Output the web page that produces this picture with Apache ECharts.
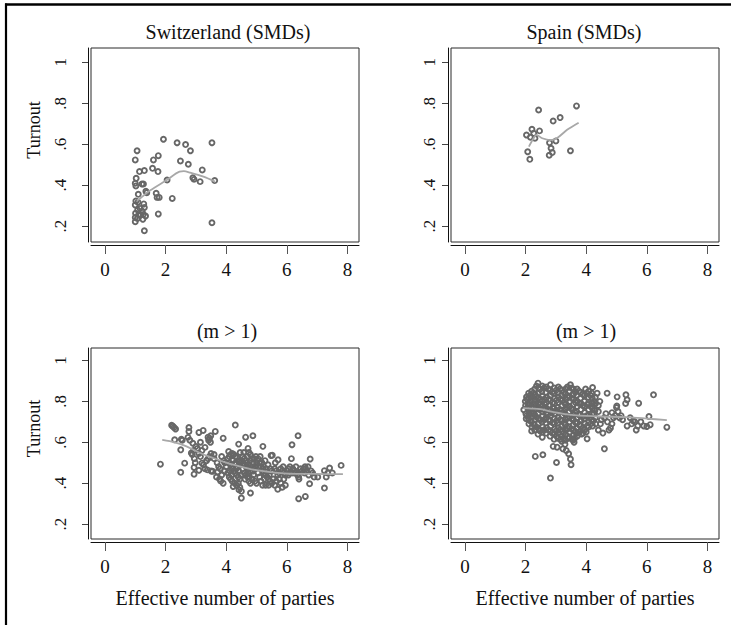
<!DOCTYPE html>
<html>
<head>
<meta charset="utf-8">
<script src="https://cdn.jsdelivr.net/npm/echarts@6/dist/echarts.min.js"></script>
<style>html,body{margin:0;padding:0;background:#fff}#c{width:731px;height:625px}</style>
</head>
<body>
<div id="c"></div>
<script>
// ---------- data ----------
const panelTitles = ["Switzerland (SMDs)", "Spain (SMDs)", "(m > 1)", "(m > 1)"];
const xTicks = [0, 2, 4, 6, 8];
const yTicks = [0.2, 0.4, 0.6, 0.8, 1];
const yName = "Turnout";
const xName = "Effective number of parties";

const swissPts = [[1.93,0.624],[2.38,0.607],[2.66,0.598],[2.82,0.568],[3.53,0.607],[1.06,0.568],[1.0,0.523],[1.60,0.523],[1.76,0.544],[2.49,0.518],[2.75,0.502],[1.57,0.482],[1.75,0.466],[1.14,0.466],[1.30,0.471],[1.03,0.433],[1.0,0.409],[1.22,0.405],[1.27,0.405],[1.02,0.396],[2.05,0.425],[3.21,0.474],[2.90,0.436],[2.94,0.428],[3.14,0.417],[3.62,0.422],[1.10,0.355],[1.35,0.370],[1.38,0.363],[1.69,0.360],[1.72,0.340],[1.79,0.340],[2.22,0.335],[1.0,0.303],[1.02,0.322],[1.09,0.316],[1.28,0.308],[1.30,0.291],[1.08,0.278],[1.01,0.262],[1.11,0.254],[1.18,0.254],[1.27,0.257],[1.34,0.249],[1.0,0.242],[1.07,0.237],[1.0,0.221],[1.25,0.233],[1.76,0.259],[3.53,0.216],[1.30,0.177],[1.23,0.272],[1.16,0.286]];
const swissLowess = [[1.05,0.325],[1.16,0.335],[1.5,0.375],[2.04,0.425],[2.46,0.466],[2.6,0.468],[2.81,0.461],[3.25,0.441],[3.63,0.417]];

const spainPts = [[2.43,0.767],[3.68,0.787],[2.91,0.713],[3.14,0.730],[2.03,0.645],[2.21,0.673],[2.27,0.653],[2.46,0.665],[2.16,0.634],[2.31,0.629],[2.79,0.607],[3.00,0.616],[2.07,0.563],[2.14,0.526],[2.84,0.580],[2.88,0.559],[2.78,0.546],[3.48,0.568]];
const spainLowess = [[2.11,0.588],[2.25,0.625],[2.36,0.645],[2.55,0.629],[2.82,0.62],[3.04,0.63],[3.37,0.67],[3.75,0.705]];

const mmLeftPts = [[1.83,0.493],
[2.2,0.683],[2.24,0.678],[2.28,0.672],[2.33,0.665],[2.3,0.612],[2.5,0.563],[2.52,0.615],[2.55,0.61],[2.5,0.453],[2.63,0.498],[2.77,0.672],[2.77,0.653],[2.74,0.624],[2.8,0.61],[2.85,0.547],[2.88,0.54],[2.9,0.595],[2.94,0.477],[2.94,0.444],[2.95,0.52],[2.98,0.5],[3.0,0.58],[2.92,0.56],
[3.1,0.648],[3.24,0.658],[3.05,0.57],[3.1,0.545],[3.15,0.53],[3.2,0.498],[3.25,0.49],[3.3,0.575],[3.35,0.51],[3.38,0.465],[3.1,0.463],[3.4,0.625],[3.45,0.62],[3.49,0.632],[3.42,0.61],[3.48,0.6],[3.5,0.545],[3.45,0.53],[3.5,0.46],[3.55,0.458],[3.3,0.47],[3.2,0.56],[3.15,0.6],[3.4,0.52],
[3.64,0.653],[3.9,0.62],[3.6,0.54],[3.7,0.5],[3.75,0.48],[3.8,0.47],[3.72,0.455],[3.78,0.42],[3.82,0.41],[3.85,0.44],[3.9,0.4],[3.95,0.46],[3.95,0.5],[3.6,0.52],[3.85,0.53],[3.92,0.51],[4.0,0.48],[3.68,0.43],
[4.05,0.52],[4.1,0.53],[4.15,0.54],[4.2,0.545],[4.25,0.54],[4.3,0.53],[4.35,0.525],[4.1,0.5],[4.15,0.49],[4.2,0.47],[4.25,0.46],[4.3,0.45],[4.35,0.44],[4.4,0.43],[4.45,0.42],[4.05,0.45],[4.1,0.43],[4.15,0.42],[4.2,0.41],[4.28,0.4],[4.35,0.39],[4.4,0.4],[4.45,0.38],[4.5,0.36],[4.12,0.46],[4.32,0.5],[4.38,0.48],[4.42,0.51],[4.48,0.5],[4.46,0.55],[4.5,0.44],[4.08,0.555],[4.3,0.684],[4.41,0.591],[4.23,0.384],[4.42,0.368],[4.5,0.327],
[4.22,0.51],[4.27,0.495],[4.18,0.44],[4.33,0.47],[4.4,0.46],[4.44,0.49],[4.52,0.51],[4.56,0.49],
[4.64,0.625],[4.88,0.632],[4.55,0.53],[4.6,0.52],[4.65,0.51],[4.7,0.53],[4.75,0.55],[4.8,0.54],[4.85,0.52],[4.9,0.5],[4.95,0.48],[4.55,0.47],[4.6,0.45],[4.65,0.44],[4.7,0.43],[4.75,0.41],[4.8,0.40],[4.85,0.42],[4.9,0.44],[4.95,0.41],[5.0,0.4],[4.6,0.49],[4.7,0.47],[4.8,0.46],[4.9,0.47],[5.0,0.5],[4.72,0.57],[4.8,0.352],[4.68,0.5],[4.58,0.55],[4.98,0.53],
[4.66,0.48],[4.74,0.49],[4.84,0.48],[4.78,0.51],[4.62,0.42],[4.72,0.45],[4.88,0.46],[4.93,0.52],[4.76,0.43],
[5.21,0.58],[5.05,0.52],[5.1,0.5],[5.15,0.48],[5.2,0.46],[5.25,0.45],[5.3,0.44],[5.35,0.43],[5.4,0.42],[5.45,0.41],[5.05,0.45],[5.1,0.43],[5.15,0.41],[5.2,0.39],[5.3,0.39],[5.4,0.39],[5.5,0.40],[5.12,0.53],[5.28,0.51],[5.38,0.49],[5.45,0.47],[5.5,0.46],[5.48,0.535],[5.22,0.47],[5.35,0.455],
[5.06,0.48],[5.18,0.5],[5.26,0.42],[5.32,0.47],[5.42,0.44],
[5.52,0.536],[5.71,0.514],[5.6,0.47],[5.65,0.46],[5.7,0.44],[5.75,0.42],[5.8,0.40],[5.85,0.38],[5.7,0.37],[5.6,0.39],[5.65,0.41],[5.75,0.45],[5.8,0.47],[5.85,0.46],[5.9,0.45],[5.95,0.44],[6.0,0.46],[5.9,0.42],[5.95,0.39],[5.55,0.42],[5.62,0.5],[5.88,0.48],
[6.17,0.588],[6.37,0.632],[6.05,0.47],[6.1,0.48],[6.15,0.52],[6.2,0.47],[6.25,0.46],[6.3,0.45],[6.35,0.44],[6.4,0.42],[6.45,0.47],[6.05,0.44],[6.1,0.45],[6.2,0.45],[6.39,0.324],[6.39,0.43],[6.5,0.46],[6.3,0.48],
[6.61,0.335],[6.55,0.47],[6.6,0.48],[6.65,0.46],[6.7,0.48],[6.77,0.518],[6.75,0.397],[6.8,0.46],[6.85,0.45],[6.72,0.44],[6.58,0.45],[6.9,0.43],[6.62,0.47],
[7.02,0.43],[7.24,0.461],[7.24,0.376],[7.41,0.474],[7.5,0.45],[7.35,0.45],[7.79,0.487],[7.3,0.43]];
const mmLeftLowess = [[1.89,0.612],[2.3,0.6],[2.69,0.58],[3.1,0.55],[3.57,0.523],[4.0,0.5],[4.45,0.482],[4.9,0.466],[5.32,0.457],[5.7,0.45],[6.09,0.446],[6.5,0.445],[6.97,0.445],[7.5,0.444],[7.85,0.444]];

const mmRightPts = [
[2.03,0.821],[1.94,0.759],[2.02,0.715],[1.99,0.80],[2.0,0.78],[2.01,0.74],
[2.1,0.84],[2.11,0.815],[2.09,0.79],[2.1,0.765],[2.12,0.74],[2.1,0.715],[2.11,0.69],
[2.2,0.85],[2.21,0.825],[2.19,0.80],[2.2,0.775],[2.22,0.75],[2.2,0.725],[2.19,0.70],[2.21,0.675],[2.2,0.655],
[2.3,0.86],[2.31,0.835],[2.29,0.81],[2.3,0.785],[2.32,0.76],[2.3,0.735],[2.31,0.71],[2.29,0.685],[2.3,0.66],[2.32,0.531],
[2.41,0.889],[2.43,0.865],[2.42,0.84],[2.4,0.815],[2.43,0.79],[2.42,0.765],[2.41,0.74],[2.43,0.715],[2.42,0.69],[2.44,0.665],[2.41,0.64],
[2.55,0.875],[2.54,0.85],[2.56,0.825],[2.55,0.80],[2.53,0.775],[2.56,0.75],[2.55,0.725],[2.54,0.70],[2.56,0.675],[2.55,0.65],[2.55,0.625],[2.57,0.539],
[2.68,0.87],[2.67,0.845],[2.69,0.82],[2.68,0.795],[2.66,0.77],[2.69,0.745],[2.68,0.72],[2.67,0.695],[2.69,0.67],[2.68,0.645],
[2.82,0.881],[2.81,0.855],[2.83,0.83],[2.82,0.805],[2.8,0.78],[2.83,0.755],[2.82,0.73],[2.81,0.705],[2.83,0.68],[2.82,0.655],[2.81,0.63],[2.82,0.425],[2.91,0.58],
[2.95,0.865],[2.94,0.84],[2.96,0.815],[2.95,0.79],[2.93,0.765],[2.96,0.74],[2.95,0.715],[2.94,0.69],[2.96,0.665],[2.95,0.64],[2.94,0.615],[3.02,0.501],[3.04,0.576],
[3.08,0.87],[3.07,0.845],[3.09,0.82],[3.08,0.795],[3.06,0.77],[3.09,0.745],[3.08,0.72],[3.07,0.695],[3.09,0.67],[3.08,0.645],[3.07,0.62],
[3.2,0.855],[3.19,0.83],[3.21,0.805],[3.2,0.78],[3.18,0.755],[3.21,0.73],[3.2,0.705],[3.19,0.68],[3.21,0.655],[3.2,0.63],[3.19,0.605],[3.23,0.568],
[3.32,0.86],[3.31,0.835],[3.33,0.81],[3.32,0.785],[3.3,0.76],[3.33,0.735],[3.32,0.71],[3.31,0.685],[3.33,0.66],[3.32,0.635],[3.31,0.61],[3.34,0.56],[3.3,0.59],
[3.48,0.881],[3.45,0.85],[3.44,0.825],[3.46,0.80],[3.45,0.775],[3.43,0.75],[3.46,0.725],[3.45,0.70],[3.44,0.675],[3.46,0.65],[3.45,0.625],[3.42,0.544],[3.48,0.518],[3.5,0.49],
[3.58,0.86],[3.57,0.835],[3.59,0.81],[3.58,0.785],[3.56,0.76],[3.59,0.735],[3.58,0.71],[3.57,0.685],[3.59,0.66],[3.58,0.635],[3.57,0.61],[3.6,0.6],
[3.7,0.86],[3.69,0.83],[3.71,0.80],[3.7,0.775],[3.68,0.75],[3.71,0.72],[3.7,0.695],[3.69,0.67],[3.71,0.645],[3.7,0.63],
[3.82,0.845],[3.81,0.815],[3.83,0.79],[3.82,0.76],[3.8,0.735],[3.83,0.71],[3.82,0.68],[3.81,0.655],[3.85,0.64],
[3.98,0.86],[3.95,0.83],[3.94,0.80],[3.96,0.775],[3.95,0.745],[3.93,0.715],[3.96,0.69],[3.95,0.66],[4.03,0.617],[4.0,0.65],
[4.08,0.85],[4.07,0.82],[4.09,0.79],[4.08,0.76],[4.06,0.73],[4.09,0.70],[4.08,0.675],
[4.21,0.868],[4.18,0.84],[4.2,0.815],[4.19,0.79],[4.21,0.765],[4.2,0.74],[4.18,0.71],[4.21,0.68],
[4.3,0.82],[4.31,0.79],[4.29,0.755],[4.3,0.72],[4.31,0.69],
// in-between points of the dense core
[2.05,0.81],[2.06,0.77],[2.04,0.73],[2.15,0.83],[2.16,0.80],[2.14,0.755],[2.16,0.705],
[2.25,0.84],[2.26,0.79],[2.24,0.74],[2.26,0.69],[2.25,0.765],[2.36,0.875],[2.35,0.825],[2.37,0.775],[2.35,0.725],[2.36,0.675],[2.34,0.80],
[2.48,0.86],[2.49,0.81],[2.47,0.76],[2.49,0.71],[2.48,0.655],[2.5,0.785],[2.61,0.865],[2.62,0.81],[2.6,0.76],[2.62,0.71],[2.61,0.66],[2.63,0.785],
[2.75,0.86],[2.76,0.81],[2.74,0.76],[2.76,0.71],[2.75,0.66],[2.73,0.735],[2.88,0.845],[2.89,0.795],[2.87,0.745],[2.89,0.695],[2.88,0.645],[2.9,0.77],
[3.01,0.855],[3.02,0.805],[3.0,0.755],[3.02,0.705],[3.01,0.655],[3.03,0.63],[3.14,0.86],[3.15,0.81],[3.13,0.76],[3.15,0.71],[3.14,0.66],[3.16,0.615],
[3.26,0.845],[3.27,0.795],[3.25,0.745],[3.27,0.695],[3.26,0.645],[3.25,0.62],[3.38,0.87],[3.39,0.82],[3.37,0.77],[3.39,0.72],[3.38,0.67],[3.4,0.62],
[3.51,0.865],[3.52,0.815],[3.5,0.765],[3.52,0.715],[3.51,0.665],[3.53,0.615],[3.64,0.845],[3.65,0.795],[3.63,0.745],[3.65,0.695],[3.64,0.65],[3.62,0.62],
[3.76,0.85],[3.77,0.79],[3.75,0.735],[3.77,0.685],[3.76,0.65],[3.88,0.835],[3.89,0.78],[3.87,0.725],[3.89,0.67],[3.9,0.645],
[4.02,0.84],[4.03,0.785],[4.01,0.73],[4.03,0.68],[4.14,0.83],[4.15,0.775],[4.13,0.72],[4.15,0.69],[4.25,0.80],[4.26,0.74],[4.24,0.705],
// sparse right tail and low outliers
[4.45,0.80],[4.4,0.75],[4.5,0.71],[4.55,0.645],[4.6,0.568],[4.69,0.84],[4.65,0.74],[4.7,0.70],[4.8,0.67],[4.75,0.66],[4.85,0.69],[4.9,0.72],[4.95,0.73],[5.0,0.77],[5.02,0.822],[5.01,0.778],[5.05,0.75],[5.1,0.72],[5.2,0.71],[5.31,0.832],[5.35,0.808],[5.3,0.79],[5.35,0.68],[5.5,0.69],[5.6,0.70],[5.65,0.66],[5.7,0.68],[5.73,0.791],[5.8,0.70],[5.9,0.68],[6.07,0.726],[6.0,0.677],[6.11,0.686],[6.22,0.832],[6.66,0.674],[4.6,0.72],[4.85,0.745],[5.15,0.73],[5.55,0.705],[5.45,0.72],[4.4,0.66],[4.47,0.69],[4.36,0.84],[4.4,0.78]
];
const mmRightLowess = [[1.92,0.767],[2.2,0.765],[2.49,0.762],[2.93,0.747],[3.3,0.738],[3.59,0.733],[4.0,0.729],[4.47,0.726],[5.35,0.723],[6.0,0.716],[6.66,0.708]];

// ---------- layout ----------
const FONT = "Liberation Serif";
const panels = [
  {pts: swissPts, lw: swissLowess, left: 91, top: 48, w: 268, h: 194, ymin: 0.122, ymax: 1.07, yName: true, xName: false, labM: 19, tx: 228, ty: 32},
  {pts: spainPts, lw: spainLowess, left: 451, top: 48, w: 268, h: 194, ymin: 0.122, ymax: 1.07, yName: false, xName: false, labM: 10, tx: 584, ty: 32},
  {pts: mmLeftPts, lw: mmLeftLowess, left: 91, top: 348, w: 268, h: 191, ymin: 0.127, ymax: 1.061, yName: true, xName: true, labM: 19, tx: 227, ty: 331},
  {pts: mmRightPts, lw: mmRightLowess, left: 451, top: 348, w: 268, h: 191, ymin: 0.127, ymax: 1.061, yName: false, xName: true, labM: 10, tx: 586, ty: 331}
];

const grid = [], xAxis = [], yAxis = [], series = [], graphic = [];
panels.forEach((p, i) => {
  grid.push({left: p.left, top: p.top, width: p.w, height: p.h, show: true, borderColor: '#2b2b2b', borderWidth: 1, backgroundColor: 'transparent', containLabel: false, outerBoundsMode: 'none'});
  xAxis.push({
    type: 'value', gridIndex: i, min: -0.46, max: 8.38, offset: 3,
    axisLine: {show: true, onZero: false, lineStyle: {color: '#111', width: 1}},
    axisTick: {show: true, length: 9, customValues: xTicks, lineStyle: {color: '#555', width: 1}},
    axisLabel: {customValues: xTicks, fontFamily: FONT, fontSize: 19, color: '#111', margin: 15, formatter: v => String(v)},
    splitLine: {show: false},
    name: p.xName ? xName : '', nameLocation: 'middle', nameGap: 46,
    nameTextStyle: {fontFamily: FONT, fontSize: 20, color: '#111'}
  });
  yAxis.push({
    type: 'value', gridIndex: i, min: p.ymin, max: p.ymax, offset: 3,
    axisLine: {show: true, onZero: false, lineStyle: {color: '#111', width: 1}},
    axisTick: {show: true, length: 6, customValues: yTicks, lineStyle: {color: '#444', width: 1}},
    axisLabel: {customValues: yTicks, rotate: 90, fontFamily: FONT, fontSize: 17, color: '#111', margin: p.labM,
      formatter: v => (Math.abs(v - 1) < 1e-9 ? '1' : '.' + Math.round(v * 10))},
    splitLine: {show: false},
    name: p.yName ? yName : '', nameLocation: 'middle', nameGap: 45, nameRotate: 90,
    nameTextStyle: {fontFamily: FONT, fontSize: 18, color: '#111', padding: [0, 0, 0, 30]}
  });
  series.push({
    type: 'scatter', xAxisIndex: i, yAxisIndex: i, data: p.pts, symbol: 'circle', symbolSize: 5,
    itemStyle: {color: 'rgba(0,0,0,0)', borderColor: '#676767', borderWidth: 1.9, opacity: 1},
    emphasis: {disabled: true}, silent: true, z: 2, clip: false
  });
  series.push({
    type: 'line', xAxisIndex: i, yAxisIndex: i, data: p.lw, showSymbol: false, symbol: 'none',
    lineStyle: {color: '#a8a8a8', width: 1.8}, smooth: 0.3, silent: true, z: 3
  });
  graphic.push({type: 'text', x: p.tx, y: p.ty, style: {text: panelTitles[i], fontFamily: FONT, fontSize: 20, fill: '#111', align: 'center', verticalAlign: 'middle'}});
});
// outer frame (top and left edges)
graphic.push({type: 'line', shape: {x1: 5, y1: 4.5, x2: 731, y2: 4.5}, style: {stroke: '#000', lineWidth: 2.4}});
graphic.push({type: 'line', shape: {x1: 6, y1: 3.5, x2: 6, y2: 625}, style: {stroke: '#000', lineWidth: 2.2}});

const chart = echarts.init(document.getElementById('c'), null, {renderer: 'svg'});
chart.setOption({animation: false, backgroundColor: '#fff', grid, xAxis, yAxis, series, graphic});
</script>
</body>
</html>
